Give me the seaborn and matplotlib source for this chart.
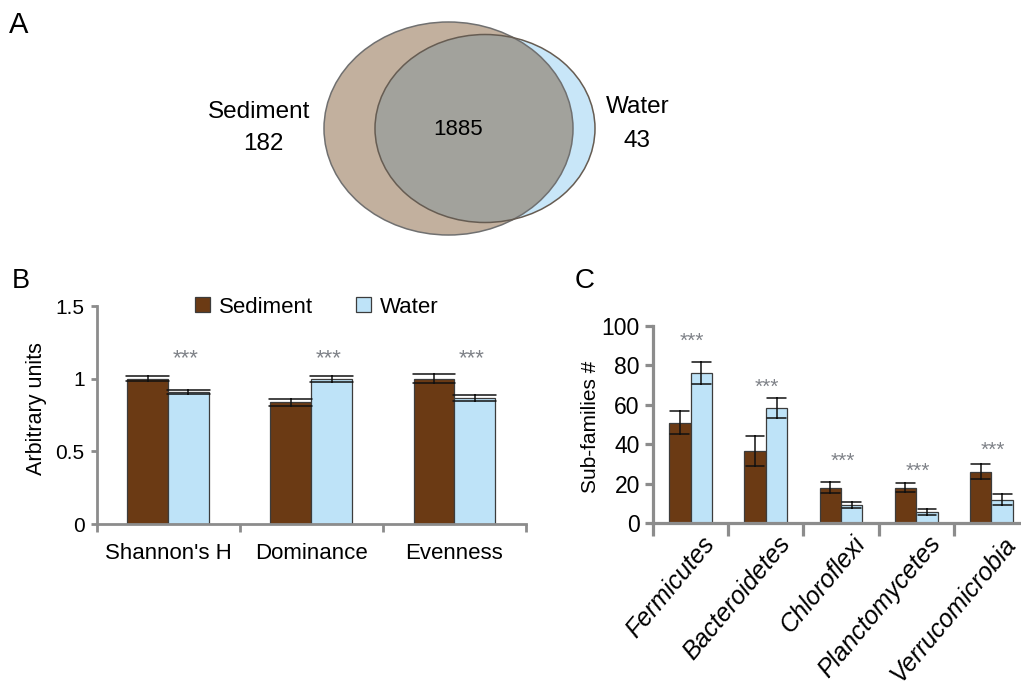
import numpy as np
import pandas as pd
import matplotlib
matplotlib.use("Agg")
import matplotlib.pyplot as plt
import seaborn as sns
from matplotlib.patches import Ellipse
from matplotlib.transforms import ScaledTranslation

# ---------------- data ----------------
venn_names = ["Sediment", "Water"]
venn_only_sediment = 182
venn_shared = 1885
venn_only_water = 43

groups = ["Sediment", "Water"]
group_colors = ["#6b3a14", "#bee3f8"]

b_metrics = ["Shannon's H", "Dominance", "Evenness"]
b_sed = [1.00, 0.837, 1.00]
b_sed_err = [0.018, 0.022, 0.029]
b_wat = [0.911, 1.00, 0.867]
b_wat_err = [0.014, 0.020, 0.024]
b_sig = ["***", "***", "***"]
b_sig_y = [1.19, 1.19, 1.19]
b_yticks = [0, 0.5, 1, 1.5]
b_yticklabels = ["0", "0.5", "1", "1.5"]

c_phyla = ["Fermicutes", "Bacteroidetes", "Chloroflexi", "Planctomycetes", "Verrucomicrobia"]
c_sed = [51.0, 36.6, 18.0, 18.0, 26.1]
c_sed_err = [5.6, 7.8, 2.8, 2.4, 4.0]
c_wat = [76.0, 58.2, 9.3, 5.7, 11.8]
c_wat_err = [5.5, 5.0, 1.5, 1.4, 2.8]
c_sig = ["***", "***", "***", "***", "***"]
c_sig_y = [95.8, 72.5, 35.0, 30.0, 40.5]
c_yticks = [0, 20, 40, 60, 80, 100]


def long_df(cats, sed, sed_err, wat, wat_err):
    rows = []
    for grp, means, errs in (("Sediment", sed, sed_err), ("Water", wat, wat_err)):
        for c, m, e in zip(cats, means, errs):
            for v in (m - e, m, m + e):
                rows.append({"category": c, "group": grp, "value": v})
    return pd.DataFrame(rows)


def minmax(v):
    return (v.min(), v.max())


sns.set_style("white")
plt.rcParams["font.family"] = ["Liberation Sans", "DejaVu Sans"]
plt.rcParams["text.color"] = "black"
plt.rcParams["axes.labelcolor"] = "black"
plt.rcParams["xtick.labelcolor"] = "black"
plt.rcParams["ytick.labelcolor"] = "black"

W, H = 1021, 689
fig = plt.figure(figsize=(W / 100, H / 100), dpi=100)

AXCOL = "#8c8c8c"
STARCOL = "#7f8288"

# ---------------- Panel A: Venn ----------------
axA = fig.add_axes([0, 1 - 260 / H, 1, 260 / H])
axA.set_xlim(0, W)
axA.set_ylim(260, 0)
axA.axis("off")

sed_e = Ellipse((448.5, 128.5), 249, 213, fc="#c2b09e", ec="none", zorder=1)
wat_e = Ellipse((485, 128.5), 220, 188, fc="#c8e6f8", ec="none", zorder=2)
axA.add_patch(sed_e)
axA.add_patch(wat_e)
inter = Ellipse((485, 128.5), 220, 188, fc="#a2a29c", ec="none", zorder=3)
axA.add_patch(inter)
inter.set_clip_path(sed_e)
axA.add_patch(Ellipse((448.5, 128.5), 249, 213, fc="none", ec="#707070", lw=1.1, zorder=4))
axA.add_patch(Ellipse((485, 128.5), 220, 188, fc="none", ec="#665c52", lw=1.1, zorder=4))

axA.text(259, 118, venn_names[0], ha="center", va="baseline", fontsize=17.5, zorder=5)
axA.text(263, 150, str(venn_only_sediment), ha="center", va="baseline", fontsize=17.5, zorder=5)
axA.text(458, 135, str(venn_shared), ha="center", va="baseline", fontsize=16, zorder=5)
axA.text(638, 113, venn_names[1], ha="center", va="baseline", fontsize=17.5, zorder=5)
axA.text(637, 147, str(venn_only_water), ha="center", va="baseline", fontsize=17.5, zorder=5)


def style_axes(ax, spine_w, ytick_len, xminor_len):
    sns.despine(ax=ax)
    for s in ("left", "bottom"):
        ax.spines[s].set_color(AXCOL)
        ax.spines[s].set_linewidth(spine_w)
    ax.tick_params(axis="y", which="major", left=True, length=ytick_len, width=spine_w,
                   color=AXCOL, labelcolor="black", direction="out", pad=4)
    ax.tick_params(axis="x", which="major", bottom=True, length=0, labelcolor="black")
    ax.tick_params(axis="x", which="minor", bottom=True, length=xminor_len, width=spine_w,
                   color=AXCOL, direction="out")
    ax.set_xlabel("")


# ---------------- Panel B ----------------
axB = fig.add_axes([96.5 / W, 1 - 524 / H, 429.5 / W, 218 / H])
df_b = long_df(b_metrics, b_sed, b_sed_err, b_wat, b_wat_err)
sns.barplot(data=df_b, x="category", y="value", hue="group", order=b_metrics,
            hue_order=groups, palette=group_colors, saturation=1, width=0.57,
            estimator="mean", errorbar=minmax, capsize=0.6,
            err_kws={"color": "#111111", "linewidth": 1.1},
            edgecolor="#3c3c3c", linewidth=0.9, ax=axB)
axB.set_xlim(-0.5, len(b_metrics) - 0.5)
axB.set_ylim(0, 1.5)
axB.set_yticks(b_yticks)
axB.set_yticklabels(b_yticklabels, fontsize=15)
axB.set_xticks(range(len(b_metrics)))
axB.set_xticklabels(b_metrics, fontsize=16)
axB.set_xticks(np.arange(-0.5, len(b_metrics), 1.0), minor=True)
style_axes(axB, 2.0, 4.5, 6)
axB.tick_params(axis="x", which="major", pad=14)
axB.set_ylabel("Arbitrary units", fontsize=15.5)
axB.yaxis.set_label_coords(-0.115, 0.53)

handles, labels = axB.get_legend_handles_labels()
axB.legend(handles, labels, loc="center", bbox_to_anchor=(0.513, 0.995), ncol=2,
           frameon=False, fontsize=16, handlelength=0.68, handleheight=0.68,
           handletextpad=0.4, columnspacing=1.9, borderaxespad=0)

star_shift = ScaledTranslation(0, -0.13, fig.dpi_scale_trans)
for i, (s, y) in enumerate(zip(b_sig, b_sig_y)):
    axB.text(i + 0.12, y, s, ha="center", va="baseline", fontsize=16, color=STARCOL,
             transform=axB.transData + star_shift)

# ---------------- Panel C ----------------
axC = fig.add_axes([653 / W, 1 - 523 / H, 376 / W, 197 / H])
df_c = long_df(c_phyla, c_sed, c_sed_err, c_wat, c_wat_err)
sns.barplot(data=df_c, x="category", y="value", hue="group", order=c_phyla,
            hue_order=groups, palette=group_colors, saturation=1, width=0.57,
            estimator="mean", errorbar=minmax, capsize=0.5,
            err_kws={"color": "#111111", "linewidth": 1.1},
            edgecolor="#3c3c3c", linewidth=0.9, ax=axC, legend=False)
axC.set_xlim(-0.5, len(c_phyla) - 0.5)
axC.set_ylim(0, 100)
axC.set_yticks(c_yticks)
axC.set_yticklabels([str(t) for t in c_yticks], fontsize=16.5)
axC.set_xticks(range(len(c_phyla)))
axC.set_xticklabels(c_phyla, fontsize=18, fontstyle="italic")
axC.set_xticks(np.arange(-0.5, len(c_phyla), 1.0), minor=True)
style_axes(axC, 2.3, 5.5, 9.5)
axC.tick_params(axis="x", which="major", pad=12)
lab_shift = ScaledTranslation(0.2, 0, fig.dpi_scale_trans)
for lab in axC.get_xticklabels():
    lab.set_rotation(50)
    lab.set_ha("right")
    lab.set_va("center")
    lab.set_rotation_mode("anchor")
    lab.set_transform(lab.get_transform() + lab_shift)
axC.set_ylabel("Sub-families #", fontsize=15)
axC.yaxis.set_label_coords(-0.141, 0.487)

for i, (s, y) in enumerate(zip(c_sig, c_sig_y)):
    axC.text(i + 0.02, y, s, ha="center", va="baseline", fontsize=15, color=STARCOL,
             transform=axC.transData + star_shift)

# ---------------- panel letters ----------------
fig.text(9 / W, 1 - 33 / H, "A", fontsize=21, va="baseline")
fig.text(12 / W, 1 - 288 / H, "B", fontsize=19.5, va="baseline")
fig.text(575 / W, 1 - 288 / H, "C", fontsize=20, va="baseline")

fig.savefig("out.png", dpi=100)
